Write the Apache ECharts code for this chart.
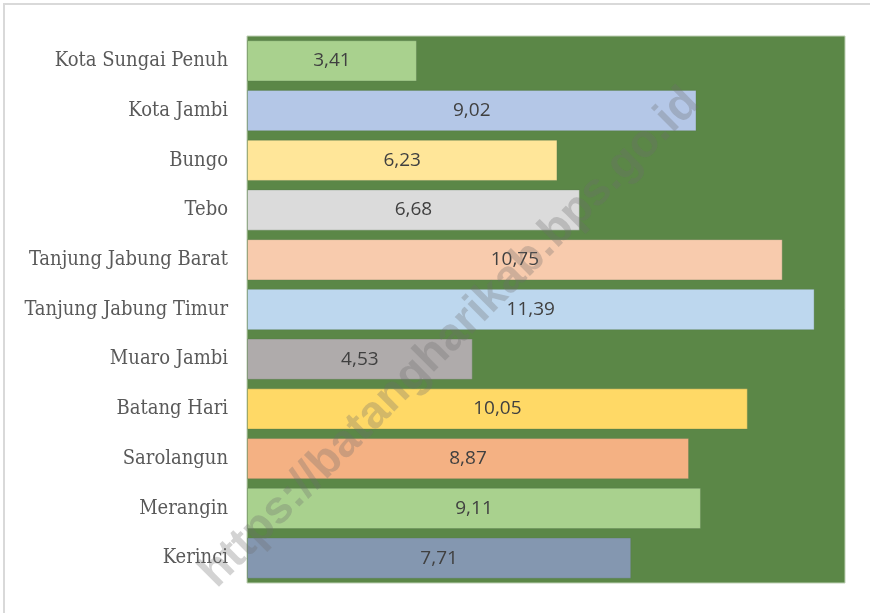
<!DOCTYPE html>
<html><head><meta charset="utf-8">
<script src="https://cdn.jsdelivr.net/npm/echarts@6/dist/echarts.min.js"></script>
<style>html,body{margin:0;padding:0;background:#fff}#c{width:870px;height:613px}</style>
</head><body><div id="c"></div>
<script>
const categories = ["Kota Sungai Penuh","Kota Jambi","Bungo","Tebo","Tanjung Jabung Barat","Tanjung Jabung Timur","Muaro Jambi","Batang Hari","Sarolangun","Merangin","Kerinci"];
const values = [3.41, 9.02, 6.23, 6.68, 10.75, 11.39, 4.53, 10.05, 8.87, 9.11, 7.71];
const barColors = ["#A9D18E","#B4C7E7","#FFE699","#DBDBDB","#F8CBAD","#BDD7EE","#AFABAB","#FFD966","#F4B183","#A9D18E","#8497B0"];
const watermark = "https://batangharikab.bps.go.id";

const chart = echarts.init(document.getElementById('c'), null, {renderer:'canvas'});
chart.setOption({
  animation:false,
  backgroundColor:'#fff',
  grid:{left:247, right:25, top:36, bottom:30, show:true, backgroundColor:'#5B8747', borderColor:'#BFD0B5', borderWidth:1},
  xAxis:{type:'value', min:0, max:12, show:false},
  yAxis:{type:'category', data:categories, inverse:true,
    axisLine:{show:false}, axisTick:{show:false},
    axisLabel:{color:'#595959', fontFamily:'DejaVu Serif Condensed', fontSize:20, margin:19}},
  series:[{type:'bar', barCategoryGap:'17%',
    data: values.map((v,i)=>({value:v, itemStyle:{color:barColors[i]}})),
    itemStyle:{borderColor:'rgba(90,120,80,0.35)', borderWidth:1},
    label:{show:true, position:'inside', color:'#404040', fontFamily:'Open Sans', fontSize:19,
      formatter:p=>p.value.toFixed(2).replace('.',',')}}],
  graphic:[
    {type:'rect', shape:{x:4,y:4,width:900,height:700}, style:{fill:'none', stroke:'#D9D9D9', lineWidth:2}, silent:true},
    {type:'text', x:450, y:338, rotation:Math.PI/4, z:100,
      style:{text:watermark, fill:'rgba(110,110,110,0.3)', font:'bold 46px "Liberation Sans"', align:'center', verticalAlign:'middle'}}
  ]
});
</script></body></html>
